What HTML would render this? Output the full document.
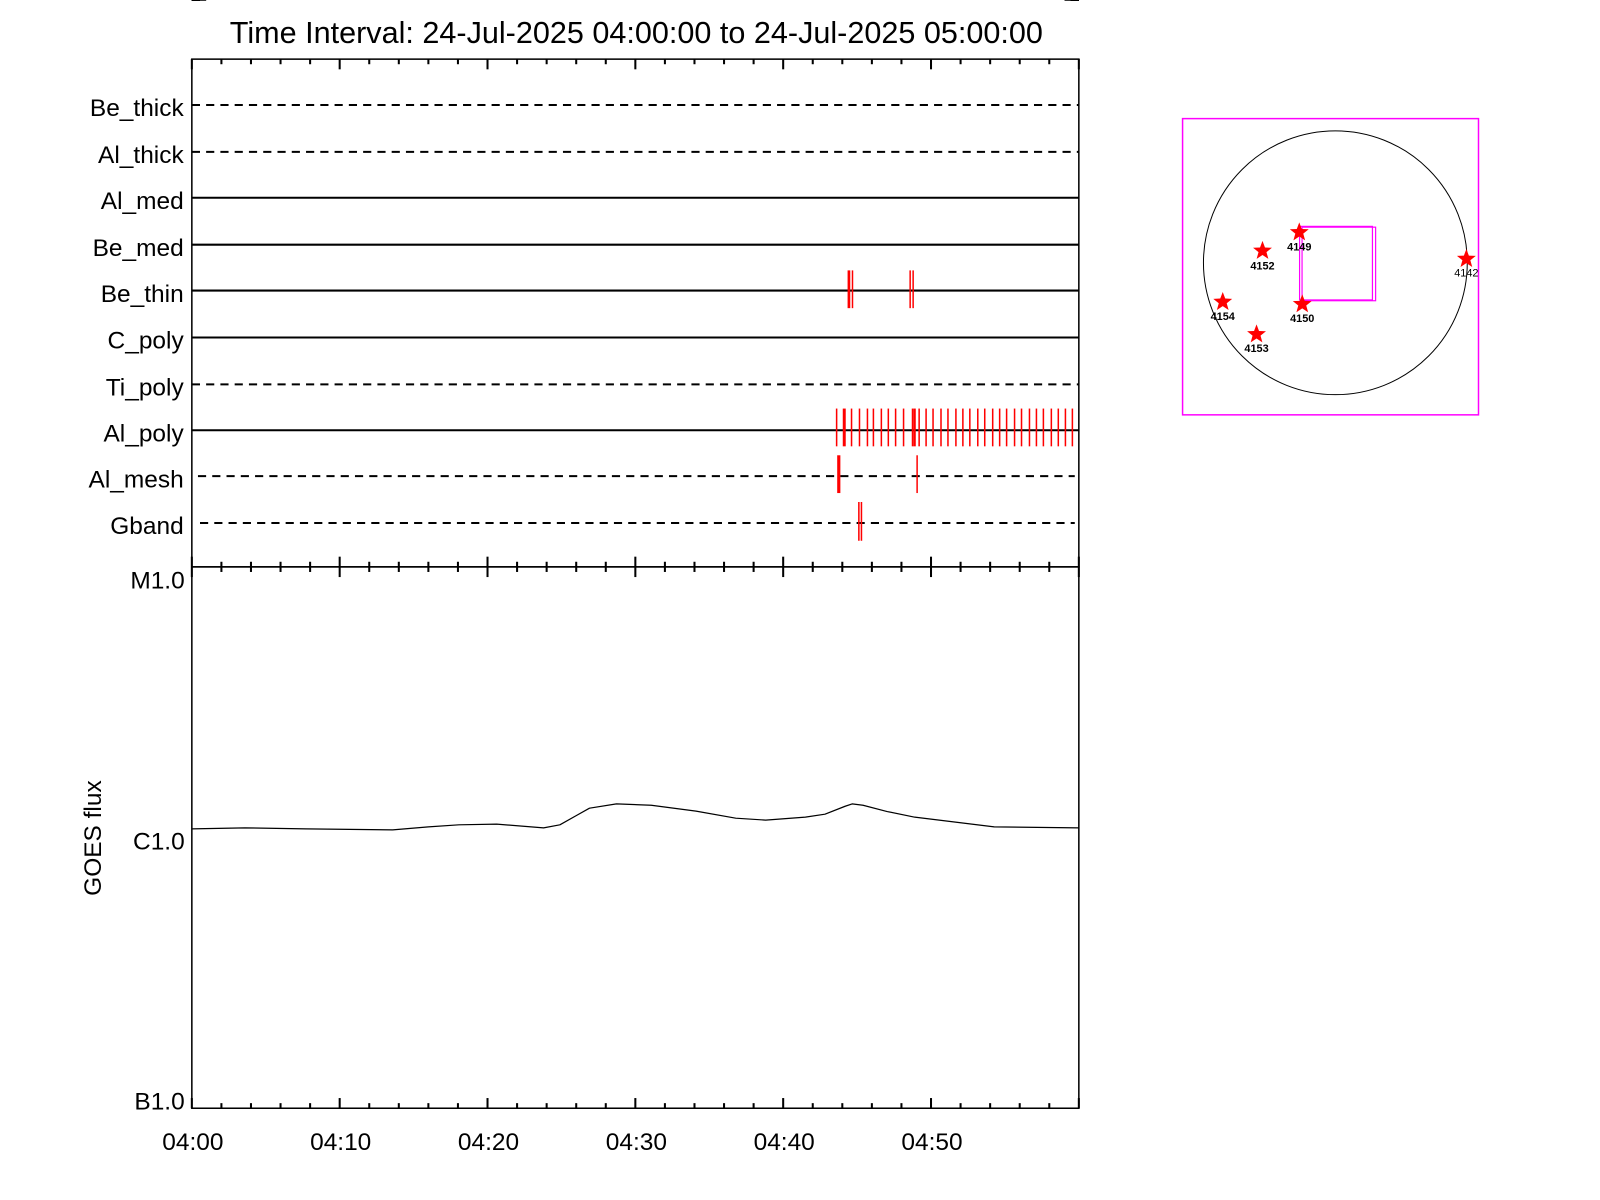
<!DOCTYPE html>
<html><head><meta charset="utf-8"><style>
html,body{margin:0;padding:0;background:#fff}
svg{display:block}
text{font-family:"Liberation Sans",sans-serif;fill:#000}
</style></head><body>
<svg width="1600" height="1200" viewBox="0 0 1569 1177" xmlns="http://www.w3.org/2000/svg">
<rect width="1569" height="1177" fill="#fff"/>
<text x="624" y="42" font-size="30" text-anchor="middle">Time Interval: 24-Jul-2025 04:00:00 to 24-Jul-2025 05:00:00</text>
<g stroke="#000" stroke-width="1.5" fill="none">
<rect x="188" y="58" width="870" height="498"/>
<rect x="188" y="556" width="870" height="531"/>
</g>
<g id="ticks" stroke="#000" stroke-width="2"></g>
<g stroke="#000" stroke-width="2" fill="none">
<line x1="188" y1="103" x2="1058" y2="103" stroke-dasharray="8,6"/>
<line x1="188" y1="149" x2="1058" y2="149" stroke-dasharray="8,6"/>
<line x1="188" y1="194" x2="1058" y2="194"/>
<line x1="188" y1="240" x2="1058" y2="240"/>
<line x1="188" y1="285" x2="1058" y2="285"/>
<line x1="188" y1="331" x2="1058" y2="331"/>
<line x1="188" y1="377" x2="1058" y2="377" stroke-dasharray="8,6"/>
<line x1="188" y1="422" x2="1058" y2="422"/>
<line x1="194" y1="467" x2="1054" y2="467" stroke-dasharray="8,6"/>
<line x1="196" y1="513" x2="1054" y2="513" stroke-dasharray="8,6"/>
</g>
<g font-size="24" text-anchor="end">
<text x="180" y="114">Be_thick</text>
<text x="180" y="160">Al_thick</text>
<text x="180" y="205">Al_med</text>
<text x="180" y="251">Be_med</text>
<text x="180" y="296">Be_thin</text>
<text x="180" y="342">C_poly</text>
<text x="180" y="388">Ti_poly</text>
<text x="180" y="433">Al_poly</text>
<text x="180" y="478">Al_mesh</text>
<text x="180" y="524">Gband</text>
</g>
<g id="red" stroke="#f00" stroke-width="1.5" transform="translate(5,0)"></g>
<g font-size="24" text-anchor="end">
<text x="181" y="577">M1.0</text>
<text x="181" y="833">C1.0</text>
<text x="181" y="1088">B1.0</text>
</g>
<text x="0" y="0" font-size="24" transform="translate(99,822) rotate(-90)" text-anchor="middle">GOES flux</text>
<g font-size="24" text-anchor="middle">
<text x="189" y="1128">04:00</text><text x="334" y="1128">04:10</text><text x="479" y="1128">04:20</text>
<text x="624" y="1128">04:30</text><text x="769" y="1128">04:40</text><text x="914" y="1128">04:50</text>
</g>
<polyline fill="none" stroke="#000" stroke-width="1.2" stroke-linejoin="round" points="188,813 240,812 300,813 385,814 420,811 450,809 487,808.3 533,812 549,809 565,800 578,792.7 604.5,788.5 638.6,789.8 682.5,795.6 721.5,802.5 750.8,804.4 789.8,801.5 809,798.6 828.8,790.8 835.6,788.5 846.3,789.8 870,796 897,801.5 950,808 975,811 1058,812"/>
<g transform="translate(7,1) scale(0.975)">
<rect x="1182.3" y="118.3" width="297.7" height="298" fill="none" stroke="#f0f" stroke-width="1.5"/>
<circle cx="1336" cy="263.3" r="132.7" fill="none" stroke="#000" stroke-width="1"/>
<rect x="1300" y="226.7" width="73.3" height="74" fill="none" stroke="#f0f" stroke-width="1.2"/>
<rect x="1302.5" y="227.5" width="74" height="74" fill="none" stroke="#f0f" stroke-width="1.2"/>
<g id="stars" fill="#f00"></g>
<g font-size="11" font-weight="bold" text-anchor="middle">
<text x="1299.7" y="251">4149</text><text x="1262.7" y="270">4152</text>
<text x="1222.7" y="321">4154</text><text x="1256.7" y="353">4153</text>
<text x="1302.7" y="323">4150</text><text x="1467.8" y="277" font-weight="normal">4142</text>
</g>
</g>
</svg>
<script>
var NS="http://www.w3.org/2000/svg";
function L(g,x1,y1,x2,y2,w,c){var l=document.createElementNS(NS,"line");l.setAttribute("x1",x1);l.setAttribute("y1",y1);l.setAttribute("x2",x2);l.setAttribute("y2",y2);if(w)l.setAttribute("stroke-width",w);if(c)l.setAttribute("stroke",c);g.appendChild(l);}
var t=document.getElementById("ticks");
for(var i=0;i<=30;i++){var x=188+i*(870/30);var maj=(i%5==0);var h=maj?10:5;
 L(t,x,58,x,58+h);L(t,x,556-h,x,556+h);L(t,x,1087-h,x,1087);}
var top=556,dec=265.5;
for(var d=0;d<2;d++){for(var k=1;k<=9;k++){var y=top+dec*(d+1)-Math.log10(k)*dec;var w=(k==1)?14:8;
 L(t,188,y,188+w,y,1.3);L(t,1058,y,1058-w,y,1.3);}}
var r=document.getElementById("red");
var s=0.975;
function R(xr,y1,y2,w){L(r,xr*s,y1*s,xr*s,y2*s,w?w*s:1.5);}
[848.7,852.3,910.3,913.3].forEach(function(x,i){R(x,272,310,i==0?2.7:1.5);});
var zx=[109,154,178,202,220,244,265,287,311,338,358,379,400,424,445,469,490,511,535,556,580,601,622,646,667,691,712,733,757,778];
zx.forEach(function(z){R(800+z/3,411,449);});
[1066.5,1073.5].forEach(function(x){R(x,411,449);});
R(844,411,449,3);R(914.7,411,449,2.5);
R(838.5,458,496,3.2);R(917.3,458,496,1.5);
R(858.7,505,544);R(861.3,505,544);
var st=document.getElementById("stars");
function star(cx,cy,R0){var p="";for(var i=0;i<10;i++){var rr=i%2?R0*0.42:R0;var a=-Math.PI/2+i*Math.PI/5;p+=(cx+rr*Math.cos(a)).toFixed(1)+","+(cy+rr*Math.sin(a)).toFixed(1)+" ";}
 var e=document.createElementNS(NS,"polygon");e.setAttribute("points",p);st.appendChild(e);}
[[1299.7,232.7],[1262.7,251.3],[1222.7,302.7],[1256.7,335.3],[1302.7,305],[1467.8,259.5]].forEach(function(c){star(c[0],c[1],10);});
</script>
</body></html>
